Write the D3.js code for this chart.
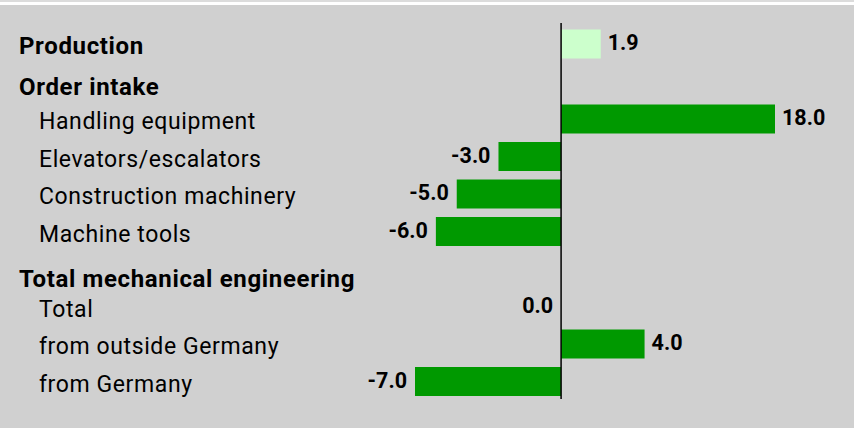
<!DOCTYPE html>
<html>
<head>
<meta charset="utf-8">
<script src="https://cdn.jsdelivr.net/npm/d3@7"></script>
<style>
    body { margin: 0; background: #ffffff; }
    svg { display: block; }
    .label { font-family: Roboto, "Liberation Sans", sans-serif; fill: #000; }
</style>
</head>
<body>
<div id="chart"></div>
<script>
/* Data */
var categories = ["Production", "Order intake", "Handling equipment", "Elevators/escalators", "Construction machinery",
                  "Machine tools", "Total mechanical engineering", "Total", "from outside Germany", "from Germany"];
var values     = [1.9, null, 18.0, -3.0, -5.0, -6.0, null, 0.0, 4.0, -7.0];
var headers    = [true, true, false, false, false, false, true, false, false, false];
var valueLabels = ["1.9", "", "18.0", "-3.0", "-5.0", "-6.0", "", "0.0", "4.0", "-7.0"];

/* Setup */
var width = 854, height = 431;
var green = "#009900", lightGreen = "#ccffcc";

var svg = d3.select("#chart").append("svg")
    .attr("width", width)
    .attr("height", height);

// background panel
svg.append("rect").attr("x", 0).attr("y", 0).attr("width", width).attr("height", 2).attr("fill", "#dcdcdc");
svg.append("rect").attr("x", 0).attr("y", 5).attr("width", width).attr("height", 423).attr("fill", "#d0d0d0");

// scales
var x = d3.scaleLinear().domain([-7, 10.25]).range([415, 775]).clamp(true);
var y = d3.scalePoint().domain(categories).range([44, 381.5]);
var barH = 29;

var rows = categories.map(function (c, i) {
    return { cat: c, value: values[i], header: headers[i], text: valueLabels[i], i: i };
});

// bars
svg.selectAll("rect.bar")
    .data(rows.filter(function (d) { return d.value !== null && d.value !== 0; }))
    .enter().append("rect")
    .attr("class", "bar")
    .attr("x", function (d) { return Math.min(x(0), x(d.value)); })
    .attr("width", function (d) { return Math.abs(x(d.value) - x(0)); })
    .attr("y", function (d) { return y(d.cat) - barH / 2; })
    .attr("height", barH)
    .attr("fill", function (d) { return d.i === 0 ? lightGreen : green; });

// zero line
svg.append("line")
    .attr("x1", x(0)).attr("x2", x(0))
    .attr("y1", 23).attr("y2", 399)
    .attr("stroke", "#000")
    .attr("stroke-width", 1.5);

// category labels (headers sit a little lower than their row)
var headerShift = { "Order intake": 3, "Total mechanical engineering": 8 };
svg.selectAll("text.cat")
    .data(rows)
    .enter().append("text")
    .attr("class", "label cat")
    .attr("x", function (d) { return d.header ? 19 : 39; })
    .attr("y", function (d) { return y(d.cat) + (headerShift[d.cat] || 0) + 10; })
    .attr("font-size", function (d) { return d.header ? 24 : 23; })
    .attr("letter-spacing", function (d) { return d.header ? 0.65 : 0.6; })
    .attr("font-weight", function (d) { return d.header ? 700 : 400; })
    .text(function (d) { return d.cat; });

// value labels
svg.selectAll("text.val")
    .data(rows.filter(function (d) { return d.value !== null; }))
    .enter().append("text")
    .attr("class", "label val")
    .attr("x", function (d) { return d.value > 0 ? x(d.value) + 7 : Math.min(x(d.value), x(0)) - 8; })
    .attr("y", function (d) { return y(d.cat) + 6; })
    .attr("text-anchor", function (d) { return d.value > 0 ? "start" : "end"; })
    .attr("font-size", 21.5)
    .attr("font-weight", 700)
    .text(function (d) { return d.text; });
</script>
</body>
</html>
